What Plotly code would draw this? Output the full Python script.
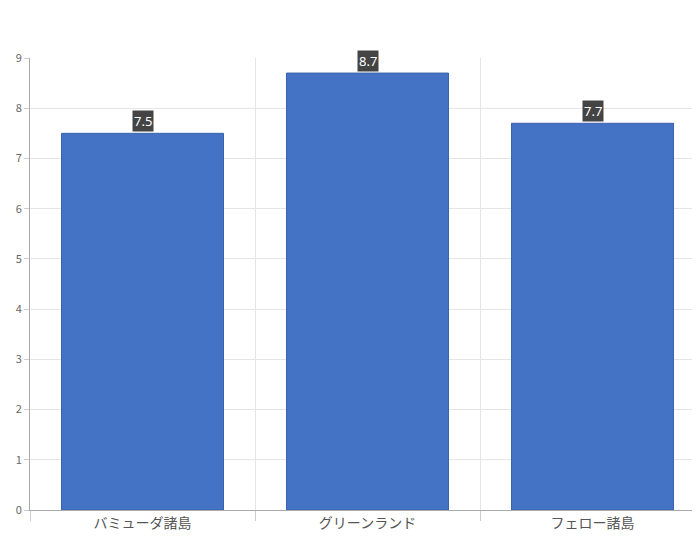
import plotly.graph_objects as go

categories = ["バミューダ諸島", "グリーンランド", "フェロー諸島"]
values = [7.5, 8.7, 7.7]
y_ticks = [0, 1, 2, 3, 4, 5, 6, 7, 8, 9]

xs = list(range(len(categories)))

fig = go.Figure()
fig.add_trace(go.Bar(x=xs, y=values, marker=dict(color="#4472c4", line=dict(color="#3a62ad", width=1)),
                     width=0.72, hoverinfo="skip"))

for x, v in zip(xs, values):
    fig.add_annotation(x=x, y=v, text=str(v), showarrow=False, yanchor="bottom", yshift=1,
                       bgcolor="#444444", font=dict(color="white", size=13, family="Noto Sans"),
                       borderpad=1)

fig.update_layout(
    width=700, height=540,
    margin=dict(l=22, r=3, t=50, b=38),
    plot_bgcolor="white", paper_bgcolor="white",
    showlegend=False,
    font=dict(family="Noto Sans CJK JP, Noto Sans", color="#555555"),
    xaxis=dict(
        range=[-0.5, 2.5], tickvals=xs, ticktext=categories,
        tickfont=dict(size=14, color="#555555"),
        showgrid=False, showline=True, linecolor="#aaaaaa", ticks="",
        minor=dict(tickvals=[-0.5, 0.5, 1.5, 2.5], showgrid=True, gridcolor="#e5e5e5",
                   ticks="outside", ticklen=10, tickcolor="#cccccc"),
        zeroline=False,
    ),
    yaxis=dict(
        range=[0, 9], tickvals=y_ticks, tickfont=dict(size=11, color="#666666"),
        showgrid=True, gridcolor="#e5e5e5", showline=True, linecolor="#aaaaaa",
        ticks="outside", ticklen=5, tickcolor="#cccccc", zeroline=False,
    ),
)

fig.write_html("out.html")
